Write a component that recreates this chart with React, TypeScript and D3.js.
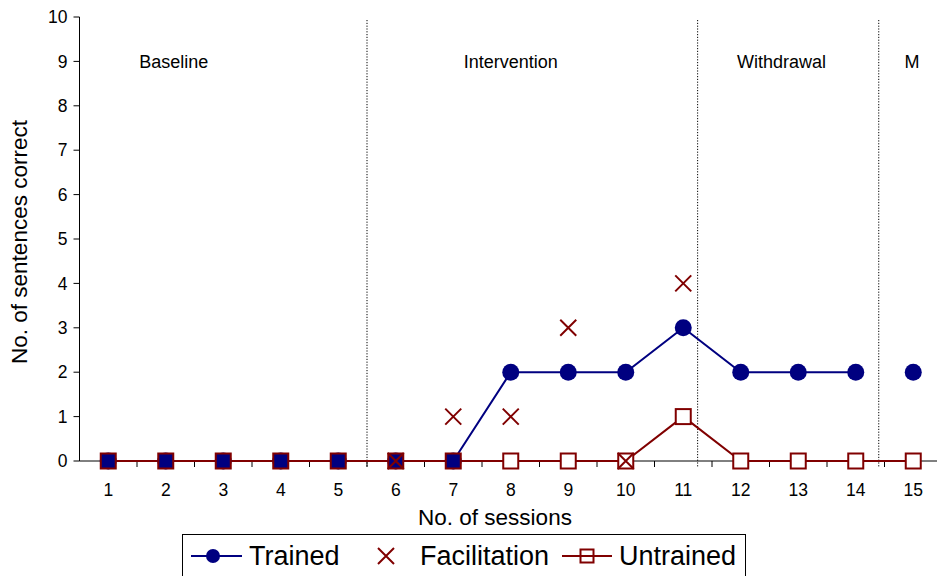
import React from "react";
import * as d3 from "d3";

const sessions = [1, 2, 3, 4, 5, 6, 7, 8, 9, 10, 11, 12, 13, 14, 15];
const trained: (number | null)[] = [0, 0, 0, 0, 0, 0, 0, 2, 2, 2, 3, 2, 2, 2, 2];
const facilitation: (number | null)[] = [null, null, null, null, null, 0, 1, 1, 3, 0, 4, null, null, null, null];
const untrained: (number | null)[] = [0, 0, 0, 0, 0, 0, 0, 0, 0, 0, 1, 0, 0, 0, 0];
// trained line breaks before this session
const trainedBreakBefore = [15];
const yTicks = [0, 1, 2, 3, 4, 5, 6, 7, 8, 9, 10];
const phases = [
  { label: "Baseline", labelX: 2.14 },
  { label: "Intervention", labelX: 8.0 },
  { label: "Withdrawal", labelX: 12.71 },
  { label: "M", labelX: 14.98 },
];
const phaseLines = [5.5, 11.25, 14.4];

const W = 937;
const H = 576;
const NAVY = "#000080";
const RED = "#800000";
const FONT = "'Liberation Sans', Arial, sans-serif";

export default function App() {
  const x = d3.scaleLinear().domain([0.5, 15.5]).range([79.5, 942]);
  const y = d3.scaleLinear().domain([0, 10]).range([461, 17]);

  const trainedPts = sessions.map((s, i) => ({ s, v: trained[i] }));
  const untrainedPts = sessions.map((s, i) => ({ s, v: untrained[i] }));

  const lineT = d3
    .line<{ s: number; v: number | null }>()
    .defined((d) => d.v !== null)
    .x((d) => x(d.s))
    .y((d) => y(d.v as number));

  const segs: { s: number; v: number | null }[][] = [];
  let cur: { s: number; v: number | null }[] = [];
  trainedPts.forEach((p) => {
    if (trainedBreakBefore.includes(p.s) && cur.length) {
      segs.push(cur);
      cur = [];
    }
    cur.push(p);
  });
  if (cur.length) segs.push(cur);

  const xTickBetween = d3.range(1.5, 15.5, 1);

  return (
    <svg
      width={W}
      height={H}
      style={{ position: "absolute", left: 0, top: 0, background: "#fff" }}
      fontFamily={FONT}
    >
      {/* Y axis */}
      <line x1={x(0.5)} x2={x(0.5)} y1={y(10)} y2={y(0)} stroke="#000" strokeWidth={1} />
      {yTicks.map((t) => (
        <g key={t}>
          <line x1={x(0.5) - 6} x2={x(0.5)} y1={y(t)} y2={y(t)} stroke="#000" />
          <text x={x(0.5) - 12} y={y(t)} dy="0.35em" textAnchor="end" fontSize={17.5}>
            {t}
          </text>
        </g>
      ))}
      {/* X axis */}
      <line x1={x(0.5)} x2={W} y1={y(0)} y2={y(0)} stroke="#000" />
      {xTickBetween.map((t) => (
        <line key={t} x1={x(t)} x2={x(t)} y1={y(0)} y2={y(0) + 6} stroke="#000" />
      ))}
      {sessions.map((s) => (
        <text key={s} x={x(s)} y={496} textAnchor="middle" fontSize={17.5}>
          {s}
        </text>
      ))}

      {/* phase lines */}
      {phaseLines.map((p) => (
        <line
          key={p}
          x1={x(p)}
          x2={x(p)}
          y1={y(10) + 3}
          y2={y(0) + 7}
          stroke="#000"
          strokeWidth={1}
          strokeDasharray="1.2,1.6"
        />
      ))}
      {phases.map((p) => (
        <text key={p.label} x={x(p.labelX)} y={y(9)} dy="0.35em" textAnchor="middle" fontSize={18}>
          {p.label}
        </text>
      ))}

      {/* Axis titles */}
      <text
        transform={`translate(27,242) rotate(-90)`}
        textAnchor="middle"
        fontSize={22.5}
      >
        No. of sentences correct
      </text>
      <text x={495} y={525} textAnchor="middle" fontSize={22.5}>
        No. of sessions
      </text>

      {/* Trained line */}
      {segs.map((seg, i) => (
        <path key={i} d={lineT(seg) || ""} fill="none" stroke={NAVY} strokeWidth={2} />
      ))}
      {/* Untrained line */}
      <path d={lineT(untrainedPts) || ""} fill="none" stroke={RED} strokeWidth={2} />

      {/* Trained markers */}
      {trainedPts.map((p) =>
        p.v === null ? null : <circle key={p.s} cx={x(p.s)} cy={y(p.v)} r={8.5} fill={NAVY} />
      )}
      {/* Untrained markers */}
      {untrainedPts.map((p, i) =>
        p.v === null ? null : (
          <rect
            key={p.s}
            x={x(p.s) - 7.5}
            y={y(p.v) - 7.5}
            width={15}
            height={15}
            fill={trained[i] === p.v ? NAVY : "#fff"}
            stroke={RED}
            strokeWidth={2}
          />
        )
      )}
      {/* Facilitation markers */}
      {sessions.map((s, i) => {
        const v = facilitation[i];
        if (v === null) return null;
        const cx = x(s);
        const cy = y(v);
        const k = 8;
        return (
          <path
            key={s}
            d={`M${cx - k},${cy - k}L${cx + k},${cy + k}M${cx - k},${cy + k}L${cx + k},${cy - k}`}
            stroke={RED}
            strokeWidth={2}
            fill="none"
          />
        );
      })}

      {/* Legend */}
      <rect x={182.5} y={534.5} width={563} height={60} fill="#fff" stroke="#000" strokeWidth={1} />
      <line x1={191} x2={242} y1={556} y2={556} stroke={NAVY} strokeWidth={2} />
      <circle cx={213} cy={556} r={7} fill={NAVY} />
      <text x={249} y={565} fontSize={27}>
        Trained
      </text>
      <path d="M378,548L394,564M378,564L394,548" stroke={RED} strokeWidth={2} fill="none" />
      <text x={420} y={565} fontSize={27}>
        Facilitation
      </text>
      <line x1={562} x2={612} y1={556} y2={556} stroke={RED} strokeWidth={2} />
      <rect x={580.5} y={549.5} width={13} height={13} fill="none" stroke={RED} strokeWidth={2} />
      <text x={619} y={565} fontSize={27}>
        Untrained
      </text>
    </svg>
  );
}
